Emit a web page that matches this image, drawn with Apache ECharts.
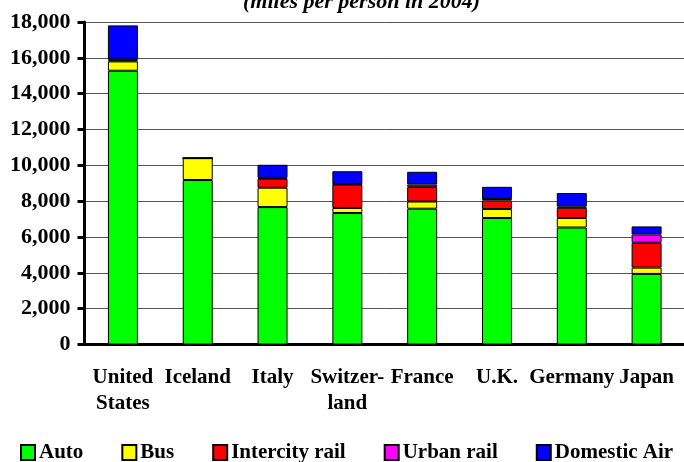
<!DOCTYPE html>
<html>
<head>
<meta charset="utf-8">
<script src="https://cdn.jsdelivr.net/npm/echarts@6/dist/echarts.min.js"></script>
<style>
html,body{margin:0;padding:0;background:#fff;}
#chart{width:684px;height:462px;}
</style>
</head>
<body>
<div id="chart"></div>
<script>
const categories = ['United\nStates', 'Iceland', 'Italy', 'Switzer-\nland', 'France', 'U.K.', 'Germany', 'Japan'];
const auto = [15280, 9180, 7670, 7340, 7580, 7060, 6530, 3940];
const bus = [520, 1220, 1080, 280, 400, 500, 530, 350];
const intercityRail = [60, 0, 500, 1310, 820, 480, 570, 1390];
const urbanRail = [50, 0, 50, 30, 130, 80, 70, 460];
const domesticAir = [1900, 0, 730, 710, 710, 680, 750, 450];
const yTicks = [0, 2000, 4000, 6000, 8000, 10000, 12000, 14000, 16000, 18000];
const subtitle = '(miles per person in 2004)';

const FONT = '"Liberation Serif", "Times New Roman", serif';
const chart = echarts.init(document.getElementById('chart'), null, {renderer: 'canvas'});

function mk(name, data, color) {
  return {
    name: name, type: 'bar', stack: 'total', data: data, barWidth: 30,
    itemStyle: {color: color, borderColor: '#000', borderWidth: 1},
    emphasis: {disabled: true}
  };
}

chart.setOption({
  animation: false,
  title: {
    text: subtitle, left: 238, top: -14,
    textStyle: {fontFamily: FONT, fontSize: 22, fontWeight: 'bold', fontStyle: 'italic', color: '#000', lineHeight: 22}
  },
  grid: {left: 85.5, top: 22, width: 602.7, height: 322.5, containLabel: false},
  legend: {
    left: 15, top: 437, itemWidth: 14, itemHeight: 15, itemGap: 38,
    icon: 'rect',
    textStyle: {fontFamily: FONT, fontSize: 21, fontWeight: 'bold', color: '#000', padding: [0,0,0,-1]},
    data: ['Auto', 'Bus', 'Intercity rail', 'Urban rail', 'Domestic Air']
  },
  xAxis: {
    type: 'category', data: categories,
    axisLine: {lineStyle: {color: '#000', width: 3}},
    axisTick: {show: false},
    axisLabel: {interval: 0, margin: 20, fontFamily: FONT, fontSize: 21, fontWeight: 'bold', color: '#000', lineHeight: 26}
  },
  yAxis: {
    type: 'value', min: yTicks[0], max: yTicks[yTicks.length - 1], interval: yTicks[1] - yTicks[0],
    offset: 1,
    axisLine: {show: true, lineStyle: {color: '#000', width: 3}},
    axisTick: {show: true, length: 7, lineStyle: {color: '#000', width: 3}},
    splitLine: {show: true, lineStyle: {color: '#555', width: 1}},
    axisLabel: {
      margin: 14, fontFamily: FONT, fontSize: 22, fontWeight: 'bold', color: '#000',
      formatter: v => v.toLocaleString('en-US')
    }
  },
  series: [
    mk('Auto', auto, '#00FF00'),
    mk('Bus', bus, '#FFFF00'),
    mk('Intercity rail', intercityRail, '#FF0000'),
    mk('Urban rail', urbanRail, '#FF00FF'),
    mk('Domestic Air', domesticAir, '#0000FF')
  ]
});
</script>
</body>
</html>
